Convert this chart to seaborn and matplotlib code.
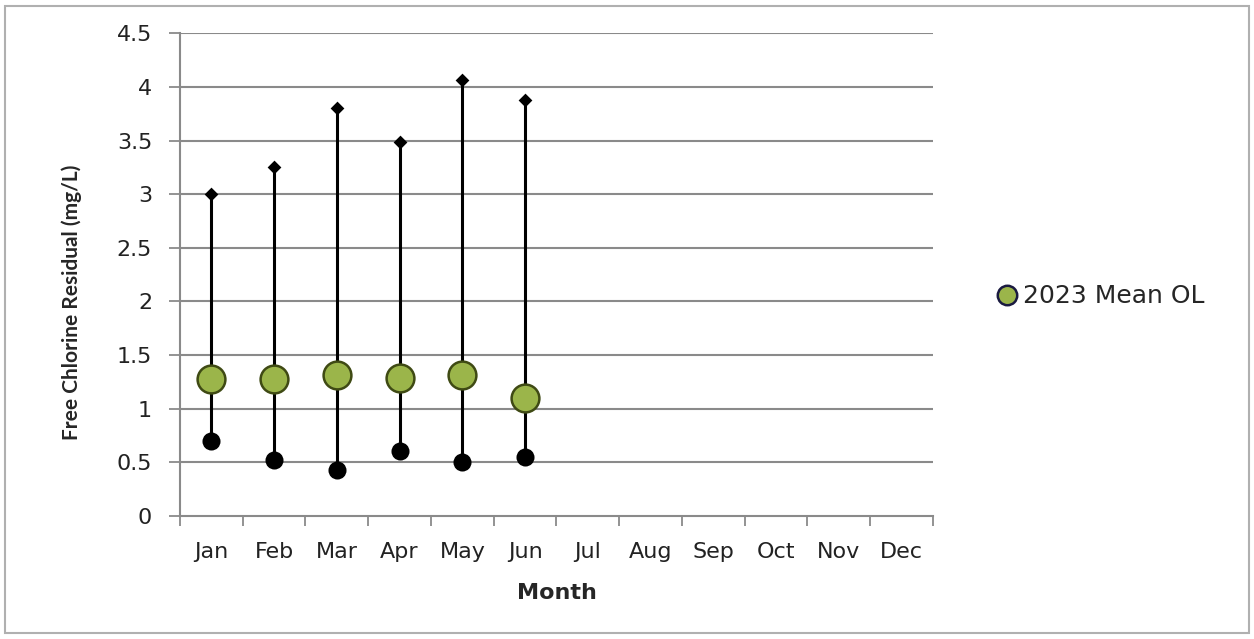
import numpy as np
import pandas as pd
import matplotlib
matplotlib.use("Agg")
import matplotlib.pyplot as plt
from matplotlib.patches import Rectangle
from matplotlib.lines import Line2D
import seaborn as sns

months = ['Jan', 'Feb', 'Mar', 'Apr', 'May', 'Jun', 'Jul', 'Aug', 'Sep', 'Oct', 'Nov', 'Dec']
obs_months = ['Jan', 'Feb', 'Mar', 'Apr', 'May', 'Jun']
max_vals = [3.0, 3.25, 3.8, 3.49, 4.06, 3.88]
min_vals = [0.70, 0.52, 0.43, 0.61, 0.50, 0.55]
mean_vals = [1.28, 1.28, 1.31, 1.29, 1.31, 1.10]
yticks = [0, 0.5, 1, 1.5, 2, 2.5, 3, 3.5, 4, 4.5]

df = pd.DataFrame({'month': obs_months, 'max': max_vals, 'min': min_vals, 'mean': mean_vals})

sns.set_style('white')
plt.rcParams['font.family'] = ['DejaVu Sans']

fig = plt.figure(figsize=(12.54, 6.39), dpi=100)
ax = fig.add_axes([0.1435, 0.1925, 0.6005, 0.7555])

fig.patches.append(Rectangle((0.004, 0.009), 0.992, 0.982, transform=fig.transFigure,
                             fill=False, edgecolor='#b0b0b0', lw=1.5))

for y in yticks[1:]:
    ax.axhline(y, color='#8a8a8a', lw=1.5, zorder=0)

pos = [months.index(m) for m in df['month']]
ax.vlines(pos, df['min'], df['max'], color='black', lw=2.2, zorder=1)

sns.stripplot(data=df, x='month', y='max', order=months, jitter=False, ax=ax,
              marker='D', s=7, color='black', zorder=2)
sns.stripplot(data=df, x='month', y='min', order=months, jitter=False, ax=ax,
              marker='o', s=13, color='black', zorder=2)
sns.stripplot(data=df, x='month', y='mean', order=months, jitter=False, ax=ax,
              marker='o', s=20, color='#9bb54a', edgecolor='#3f4a14', linewidth=1.8, zorder=3)

ax.set_xlim(-0.5, len(months) - 0.5)
ax.set_ylim(0, 4.5)
ax.set_yticks(yticks)
ax.set_yticklabels(['%g' % v for v in yticks], fontsize=16, color='#222222')
ax.set_xticks(range(len(months)))
ax.set_xticklabels(months, fontsize=16, color='#222222')
ax.set_xticks(np.arange(-0.5, len(months)), minor=True)
ax.tick_params(axis='x', which='major', length=0, pad=19)
ax.tick_params(axis='x', which='minor', length=7, color='#8a8a8a', width=1.3, direction='out', bottom=True)
ax.tick_params(axis='y', length=8, color='#8a8a8a', width=1.3, direction='out', left=True, pad=12)

for s in ['top', 'right']:
    ax.spines[s].set_visible(False)
for s in ['left', 'bottom']:
    ax.spines[s].set_color('#8a8a8a')
    ax.spines[s].set_linewidth(1.5)

ax.set_xlabel('Month', fontsize=16, fontweight='bold', labelpad=15)
ax.set_ylabel('Free Chlorine Residual (mg/L)', fontsize=15, fontweight='bold',
              family=['Lato', 'DejaVu Sans'])
ax.yaxis.set_label_coords(-0.13, 0.443)

handle = Line2D([], [], marker='o', linestyle='none', markersize=14,
                markerfacecolor='#9bb54a', markeredgecolor='#1a1a40', markeredgewidth=1.8)
ax.legend([handle], ['2023 Mean OL'], loc='center left', bbox_to_anchor=(1.05, 0.455),
          frameon=False, fontsize=18, handletextpad=0.1, handlelength=1.1)

fig.savefig('out.png', dpi=100)
